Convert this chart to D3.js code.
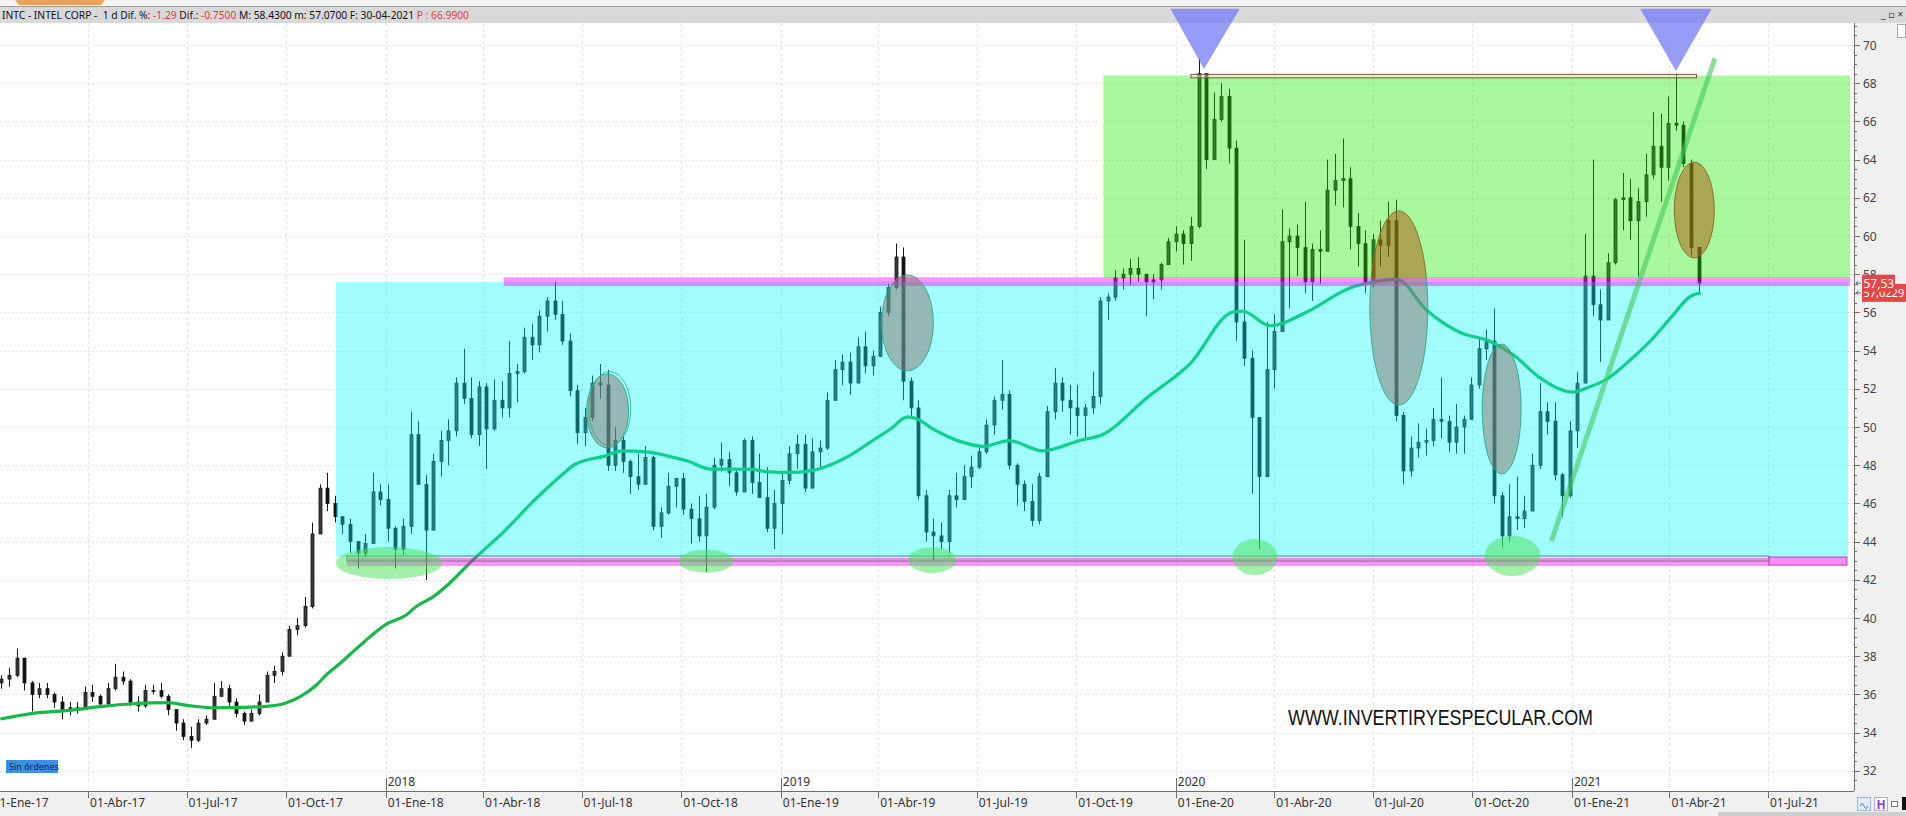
<!DOCTYPE html>
<html>
<head>
<meta charset="utf-8">
<title>INTC - INTEL CORP</title>
<script src="https://cdn.jsdelivr.net/npm/d3@7/dist/d3.min.js"></script>
<style>
  html, body { margin: 0; padding: 0; background: #ffffff; overflow: hidden; }
  svg { display: block; font-family: "Noto Sans", "DejaVu Sans", sans-serif; }
</style>
</head>
<body>
<svg id="chart" width="1906" height="816"></svg>
<script>
// ================= DATA =================
// weekly bars (Friday of each week), INTC daily chart read as weekly H/L/C
const firstWeekEnd = "2017-01-13";
const firstOpen = 36.6;
const weekHigh = [
  37.0,37.4,38.4,37.9,36.7,36.6,36.6,36.1,35.9,35.6,35.6,36.4,36.5,36.0,36.6,37.6,37.2,36.8,35.9,36.5,
  36.5,36.6,36.0,35.2,34.7,34.3,34.7,34.9,36.6,36.7,36.5,35.8,35.1,35.2,36.0,37.2,37.5,38.2,39.6,40.0,
  41.1,45.0,47.0,47.6,46.4,45.3,45.2,44.0,44.4,47.6,47.0,
  47.0,44.8,45.2,50.8,50.3,47.5,48.6,49.8,50.4,52.6,54.1,52.6,52.4,52.3,52.5,52.4,54.5,53.3,55.2,55.4,
  56.1,56.8,57.6,56.6,54.9,52.2,51.0,52.7,53.3,53.0,50.0,49.5,48.3,48.6,49.0,48.5,45.8,47.6,47.3,47.6,
  46.0,46.4,46.5,48.4,49.2,48.7,47.8,49.4,49.5,48.6,47.9,46.7,
  47.6,49.0,49.6,49.6,49.4,49.3,51.8,53.5,53.8,53.9,54.7,55.0,54.0,56.3,57.5,59.6,59.4,52.6,51.4,46.7,
  45.2,45.0,46.7,47.6,48.0,48.5,49.0,50.4,51.6,53.5,51.9,48.1,47.2,47.0,47.6,51.1,53.1,52.6,52.2,52.2,
  51.2,52.9,56.8,57.0,58.2,58.3,58.8,58.9,58.0,58.0,58.6,59.9,
  60.5,60.3,61.0,69.3,68.3,67.5,68.0,67.7,65.0,59.8,54.0,50.5,55.5,55.9,61.4,60.4,60.6,61.8,59.6,60.3,
  64.0,64.3,65.1,63.6,61.2,60.3,60.1,60.8,61.8,61.9,50.8,49.5,50.2,49.9,51.0,52.6,50.6,51.2,50.6,52.6,
  54.6,55.1,56.2,46.6,47.0,47.4,46.4,48.6,52.3,51.3,51.3,47.6,
  50.3,52.9,60.1,64.0,57.2,59.1,62.0,63.3,63.0,62.5,64.3,66.5,66.4,67.3,68.5,66.0,64.0,59.4
];
const weekLow = [
  36.3,36.4,36.9,36.2,35.1,35.8,35.8,35.3,34.7,34.9,35.0,35.2,35.6,35.3,35.4,36.2,36.5,35.4,35.1,35.3,
  36.0,35.8,34.9,34.1,33.6,33.2,33.5,34.4,34.7,35.9,35.4,34.8,34.4,34.6,34.9,35.6,36.6,37.0,38.0,39.1,
  39.5,40.5,44.4,45.6,45.0,44.4,43.4,42.6,43.2,43.9,45.9,
  44.0,42.6,43.3,44.4,47.0,42.0,44.6,47.4,48.0,49.5,51.2,49.4,49.0,47.8,49.8,50.5,50.5,51.3,52.8,53.5,
  53.9,55.0,55.6,54.3,51.6,49.1,49.0,50.3,51.5,47.7,47.7,47.6,46.5,46.7,47.0,44.6,44.2,45.4,45.8,45.4,
  43.9,44.0,42.4,45.7,47.7,46.9,46.4,46.6,46.5,46.3,44.5,43.6,
  44.4,47.0,47.8,46.6,46.8,47.9,48.8,51.4,52.2,51.7,52.6,52.8,52.7,53.8,55.8,57.2,51.4,50.5,46.2,44.0,
  43.0,43.6,43.4,45.8,46.5,46.8,47.8,48.6,49.6,50.9,47.8,45.9,45.6,44.8,44.9,47.5,50.4,50.8,49.6,49.5,
  49.4,50.7,51.2,55.6,56.6,57.2,57.4,57.6,55.8,56.7,57.2,58.8,
  59.2,58.5,58.7,60.4,63.5,64.1,66.0,63.8,54.5,53.2,46.5,43.6,47.5,52.0,55.5,56.2,57.9,57.0,56.6,57.5,
  59.5,61.6,61.5,59.3,58.4,57.0,57.3,58.4,58.9,50.3,47.0,47.4,48.4,48.5,49.0,49.4,48.7,48.6,48.6,50.5,
  52.0,53.5,46.0,43.7,44.0,44.6,44.7,45.6,47.8,49.6,47.2,45.3,
  46.3,48.9,52.7,55.8,53.4,55.6,58.5,60.3,59.8,57.9,61.0,63.0,61.8,62.9,65.5,63.6,59.0,57.07
];
const weekClose = [
  36.8,37.0,37.9,36.6,36.0,36.3,36.0,35.6,35.2,35.3,35.2,36.1,35.9,35.5,36.3,36.9,36.7,35.6,35.4,36.2,
  36.2,35.9,35.2,34.5,33.8,33.6,34.5,34.7,35.9,36.3,35.6,35.0,34.6,35.0,35.6,37.0,37.2,38.0,39.4,39.6,
  40.6,44.4,46.8,46.0,45.3,44.9,44.0,43.4,43.9,46.6,46.2,
  44.7,43.6,44.8,49.6,47.0,44.6,48.2,49.3,49.8,52.3,51.5,49.6,52.1,49.9,51.4,51.0,52.8,52.9,54.7,54.3,
  55.8,56.6,55.9,54.5,51.9,49.7,50.5,52.3,52.2,48.0,49.3,48.2,47.4,47.0,48.4,44.8,45.5,46.9,47.3,45.7,
  45.2,44.3,45.8,48.0,48.3,47.6,46.6,49.3,47.1,46.3,44.7,46.0,
  47.2,48.6,49.1,46.8,48.7,48.9,51.4,53.0,53.4,52.3,54.2,53.2,53.7,56.0,57.3,58.9,52.4,51.0,46.4,44.5,
  44.3,44.0,46.4,46.2,47.4,47.9,48.7,50.1,51.4,51.7,48.0,47.0,46.1,45.1,47.4,50.8,52.3,51.4,51.0,50.6,
  51.0,51.6,56.6,56.8,57.8,58.0,58.3,58.0,57.6,57.7,58.5,59.7,
  60.1,59.6,60.5,68.5,64.0,66.1,67.3,64.6,55.5,53.6,50.5,47.4,53.0,55.0,59.7,60.0,59.4,57.6,59.3,59.2,
  62.4,62.9,63.0,60.5,59.6,57.5,59.8,59.5,60.8,50.6,47.7,48.9,49.2,49.3,50.4,50.3,49.2,50.0,50.4,52.2,
  54.1,54.5,46.4,44.3,45.3,45.2,45.6,48.0,50.8,50.3,47.5,46.4,
  49.8,52.3,57.9,56.4,55.6,58.6,61.9,62.0,60.8,61.8,63.2,64.7,63.6,65.9,65.8,63.8,59.4,57.53
];

// moving average (green line), read at these dates
const maDates = [
  "2017-01-10","2017-02-09","2017-03-12","2017-04-12","2017-05-12","2017-06-13","2017-07-01","2017-07-25",
  "2017-08-19","2017-09-09","2017-09-28","2017-10-14","2017-10-29","2017-11-07","2017-11-20","2017-12-02",
  "2017-12-14","2018-01-02","2018-01-20","2018-01-29","2018-02-14","2018-03-01","2018-03-21","2018-04-20",
  "2018-05-20","2018-06-16","2018-06-25","2018-07-23","2018-08-07","2018-08-30","2018-09-18","2018-10-06",
  "2018-10-29","2018-12-02","2018-12-21","2019-01-09","2019-01-28","2019-02-15","2019-03-06","2019-03-25",
  "2019-04-13","2019-04-28","2019-05-06","2019-05-21","2019-06-15","2019-07-07","2019-07-31","2019-08-31",
  "2019-10-04","2019-10-26","2019-12-05","2020-01-14","2020-02-23","2020-03-03","2020-03-28","2020-05-01",
  "2020-06-10","2020-06-28","2020-07-23","2020-08-20","2020-09-20","2020-10-17","2020-11-08","2020-12-02",
  "2021-01-02","2021-01-15","2021-02-02","2021-02-27","2021-03-17","2021-04-04","2021-04-20","2021-04-30"
];
const maValues = [
  34.71,35.01,35.15,35.36,35.51,35.57,35.43,35.30,35.32,35.36,35.50,35.88,36.49,37.02,37.63,38.24,
  38.85,39.69,40.16,40.59,41.12,41.82,42.95,44.51,46.26,47.65,48.05,48.49,48.75,48.70,48.49,48.23,
  47.79,47.79,47.65,47.62,47.70,48.00,48.52,49.22,49.92,50.53,50.44,49.92,49.26,48.99,49.29,48.75,
  49.29,49.62,51.52,53.31,56.02,56.06,55.30,56.02,57.28,57.55,57.73,56.10,54.94,54.49,53.77,52.59,
  51.83,52.05,52.50,53.67,54.66,55.84,56.83,57.02
];

// axes
const priceTicks = [32,34,36,38,40,42,44,46,48,50,52,54,56,58,60,62,64,66,68,70];
const dateTicks = [
  "2017-01-01","2017-04-01","2017-07-01","2017-10-01","2018-01-01","2018-04-01","2018-07-01","2018-10-01",
  "2019-01-01","2019-04-01","2019-07-01","2019-10-01","2020-01-01","2020-04-01","2020-07-01","2020-10-01",
  "2021-01-01","2021-04-01","2021-07-01"
];
const dateTickLabels = [
  "01-Ene-17","01-Abr-17","01-Jul-17","01-Oct-17","01-Ene-18","01-Abr-18","01-Jul-18","01-Oct-18",
  "01-Ene-19","01-Abr-19","01-Jul-19","01-Oct-19","01-Ene-20","01-Abr-20","01-Jul-20","01-Oct-20",
  "01-Ene-21","01-Abr-21","01-Jul-21"
];
const yearDates = ["2018-01-01","2019-01-01","2020-01-01","2021-01-01"];
const yearLabels = ["2018","2019","2020","2021"];

// last values shown on the price axis
const lastPrice = 57.53, lastPriceLabel = "57,53";
const lastMA = 57.0229, lastMALabel = "57,0229";

// header
const headerParts = [
  {t: "INTC - INTEL CORP -  1 d Dif. %: ", red: false},
  {t: "-1.29", red: true},
  {t: " Dif.: ", red: false},
  {t: "-0.7500", red: true},
  {t: " M: 58.4300 m: 57.0700 F: 30-04-2021 ", red: false},
  {t: "P : 66.9900", red: true}
];

// drawn annotations (in date / price units)
const cyanZone = ["2017-11-16", "2021-09-13", 57.6, 43.2];
const greenZone = ["2019-10-26", "2021-09-15", 68.4, 57.82];
const resistanceBand = ["2018-04-20", "2021-09-15", 57.84, 57.38];
const supportBand = ["2017-11-26", "2021-07-02", 43.14, 42.72];
const supportBox = ["2017-11-26", "2021-07-02", 43.25, 42.98];
const supportBox2 = ["2021-07-02", "2021-09-12", 43.19, 42.77];
const topBox = ["2020-01-15", "2021-04-26", 68.46, 68.28];
const grayEllipses = [
  {date: "2018-07-25", price: 50.84, rxDays: 19.4, ry: 1.94},
  {date: "2019-04-28", price: 55.45, rxDays: 24.0, ry: 2.51},
  {date: "2020-07-25", price: 56.23, rxDays: 26.8, ry: 5.08},
  {date: "2020-10-28", price: 50.94, rxDays: 18.0, ry: 3.40},
  {date: "2021-04-24", price: 61.36, rxDays: 18.5, ry: 2.51}
];
const lowEllipses = [
  {date: "2018-01-04", price: 42.88, rxDays: 49.0, ry: 0.84},
  {date: "2018-10-24", price: 42.98, rxDays: 25.4, ry: 0.60},
  {date: "2019-05-21", price: 43.04, rxDays: 22.2, ry: 0.68},
  {date: "2020-03-14", price: 43.19, rxDays: 20.8, ry: 0.94},
  {date: "2020-11-07", price: 43.25, rxDays: 25.9, ry: 1.05}
];
const peakMarkers = [
  {left: "2019-12-27", right: "2020-02-29", apex: "2020-01-27", top: 71.9, tip: 68.74},
  {left: "2021-03-05", right: "2021-05-10", apex: "2021-04-07", top: 71.9, tip: 68.64}
];
const trendLine = [{date: "2020-12-13", price: 44.03}, {date: "2021-05-13", price: 69.3}];
const watermark = "WWW.INVERTIRYESPECULAR.COM";

// ================= DRAWING =================
const W = 1906, H = 816;
const plot = {left: 0, right: 1854, top: 23, bottom: 791};
const svg = d3.select("#chart");
const defs = svg.append("defs");
const dt = s => new Date(s);

const x = d3.scaleUtc().domain([dt("2018-01-01"), dt("2021-01-01")]).range([385.7, 1572.0]);
const y = d3.scaleLinear().domain([32, 70]).range([770.8, 45]);

defs.append("clipPath").attr("id", "plotClip").append("rect")
  .attr("x", plot.left).attr("y", plot.top)
  .attr("width", plot.right - plot.left).attr("height", plot.bottom - plot.top);

// region clips for ellipse colouring
const gz = {x0: x(dt(greenZone[0])), x1: x(dt(greenZone[1])), y0: y(greenZone[2]), y1: y(greenZone[3])};
defs.append("clipPath").attr("id", "inGreen").append("rect")
  .attr("x", gz.x0).attr("y", gz.y0).attr("width", gz.x1 - gz.x0).attr("height", gz.y1 - gz.y0);
defs.append("clipPath").attr("id", "outGreen").append("path")
  .attr("clip-rule", "evenodd")
  .attr("d", `M0,0H${W}V${H}H0Z M${gz.x0},${gz.y0}H${gz.x1}V${gz.y1}H${gz.x0}Z`);

svg.append("rect").attr("width", W).attr("height", H).attr("fill", "#ffffff");

const gPlot = svg.append("g").attr("clip-path", "url(#plotClip)");

// grid
gPlot.append("g").selectAll("line").data(priceTicks).join("line")
  .attr("x1", plot.left).attr("x2", plot.right)
  .attr("y1", d => Math.round(y(d)) + 0.5).attr("y2", d => Math.round(y(d)) + 0.5)
  .attr("stroke", "#e4e4e4").attr("stroke-dasharray", "2,2");
gPlot.append("g").selectAll("line").data(dateTicks).join("line")
  .attr("x1", d => Math.round(x(dt(d))) + 0.5).attr("x2", d => Math.round(x(dt(d))) + 0.5)
  .attr("y1", plot.top).attr("y2", plot.bottom)
  .attr("stroke", "#e2e2e2").attr("stroke-dasharray", "3,3");

// weekly candles
const weeks = weekClose.map((c, i) => {
  const end = d3.utcDay.offset(dt(firstWeekEnd), 7 * i);
  const open = i === 0 ? firstOpen : weekClose[i - 1];
  return {
    date: d3.utcDay.offset(end, -2), open, close: c,
    high: Math.max(weekHigh[i], open, c), low: Math.min(weekLow[i], open, c)
  };
});
const gC = gPlot.append("g");
gC.selectAll("line").data(weeks).join("line")
  .attr("x1", d => Math.round(x(d.date)) + 0.5).attr("x2", d => Math.round(x(d.date)) + 0.5)
  .attr("y1", d => y(d.high)).attr("y2", d => y(d.low))
  .attr("stroke", "#151515").attr("stroke-width", 1);
gC.selectAll("rect").data(weeks).join("rect")
  .attr("x", d => Math.round(x(d.date)) - 1)
  .attr("width", 3)
  .attr("y", d => y(Math.max(d.open, d.close)))
  .attr("height", d => Math.max(1, Math.abs(y(d.open) - y(d.close))))
  .attr("fill", d => d.close >= d.open ? "#3a3a3a" : "#111")
  .attr("stroke", "#151515").attr("stroke-width", 0.8);

// moving average
const maPts = maDates.map((d, i) => ({date: dt(d), v: maValues[i]}));
gPlot.append("path").datum(maPts)
  .attr("d", d3.line().x(d => x(d.date)).y(d => y(d.v)).curve(d3.curveMonotoneX))
  .attr("fill", "none").attr("stroke", "rgb(22,185,72)").attr("stroke-width", 3.2)
  .attr("stroke-linejoin", "round");

// zones
function zoneRect(g, z) {
  const x0 = x(dt(z[0])), x1 = x(dt(z[1])), y0 = y(z[2]), y1 = y(z[3]);
  return g.append("rect").attr("x", x0).attr("y", y0).attr("width", x1 - x0).attr("height", y1 - y0);
}
const gA = gPlot.append("g");
zoneRect(gA, cyanZone).attr("fill", "rgb(0,250,255)").attr("fill-opacity", 0.37);
zoneRect(gA, greenZone).attr("fill", "rgb(25,240,0)").attr("fill-opacity", 0.38);
zoneRect(gA, resistanceBand).attr("fill", "rgb(255,0,255)").attr("fill-opacity", 0.42);
zoneRect(gA, supportBand).attr("fill", "rgb(255,0,255)").attr("fill-opacity", 0.42);
zoneRect(gA, supportBox).attr("fill", "rgba(110,110,110,0.18)").attr("stroke", "#707070").attr("stroke-width", 0.8);
zoneRect(gA, supportBox2).attr("fill", "rgba(255,0,255,0.45)").attr("stroke", "#b83cb8").attr("stroke-width", 1);
zoneRect(gA, topBox).attr("fill", "rgba(255,255,255,0.35)").attr("stroke", "rgb(150,70,70)").attr("stroke-width", 1);

// ellipses
function ell(g, e) {
  const c = dt(e.date);
  const cx = x(c), cy = y(e.price);
  const rx = x(d3.utcHour.offset(c, Math.round(e.rxDays * 24))) - cx;
  const ry = y(e.price - e.ry) - cy;
  return g.append("ellipse").attr("cx", cx).attr("cy", cy).attr("rx", rx).attr("ry", ry);
}
lowEllipses.forEach(e => ell(gA, e).attr("fill", "rgb(70,225,85)").attr("fill-opacity", 0.5));
const gGray = gA.append("g").attr("clip-path", "url(#outGreen)");
const gBrown = gA.append("g").attr("clip-path", "url(#inGreen)");
grayEllipses.forEach(e => {
  ell(gGray, e).attr("fill", "rgb(135,118,108)").attr("fill-opacity", 0.5)
    .attr("stroke", "rgb(40,170,130)").attr("stroke-width", 0.9);
  ell(gBrown, e).attr("fill", "rgb(175,85,10)").attr("fill-opacity", 0.5)
    .attr("stroke", "rgb(140,100,40)").attr("stroke-width", 0.9);
});
// second outline of the first marker
{
  const e = grayEllipses[0];
  ell(gGray, {date: "2018-07-27", price: e.price + 0.12, rxDays: e.rxDays, ry: e.ry})
    .attr("fill", "none").attr("stroke", "rgb(40,170,130)").attr("stroke-width", 0.8);
}

// trend line
gA.append("line")
  .attr("x1", x(dt(trendLine[0].date))).attr("y1", y(trendLine[0].price))
  .attr("x2", x(dt(trendLine[1].date))).attr("y2", y(trendLine[1].price))
  .attr("stroke", "rgb(70,200,90)").attr("stroke-opacity", 0.6).attr("stroke-width", 5);

// watermark
svg.append("text").attr("x", 1288).attr("y", 724.5)
  .attr("font-family", "'Liberation Sans Narrow', 'Arial Narrow', 'Liberation Sans', sans-serif")
  .attr("font-size", 22).attr("fill", "#111")
  .attr("textLength", 305).attr("lengthAdjust", "spacingAndGlyphs")
  .text(watermark);

// "Sin órdenes"
svg.append("rect").attr("x", 6).attr("y", 760).attr("width", 52).attr("height", 13).attr("fill", "#3d8fe6");
svg.append("text").attr("x", 9).attr("y", 770).attr("font-size", 9).attr("fill", "#10224a").text("Sin órdenes");

// ---- bottom axis ----
svg.append("rect").attr("x", 0).attr("y", plot.bottom).attr("width", W).attr("height", H - plot.bottom).attr("fill", "#f0f0f0");
svg.append("line").attr("x1", 0).attr("x2", plot.right).attr("y1", plot.bottom + 0.5).attr("y2", plot.bottom + 0.5)
  .attr("stroke", "#6e6e6e");
const gX = svg.append("g");
gX.selectAll("line").data(dateTicks).join("line")
  .attr("x1", d => Math.round(x(dt(d))) + 0.5).attr("x2", d => Math.round(x(dt(d))) + 0.5)
  .attr("y1", plot.bottom).attr("y2", plot.bottom + 7).attr("stroke", "#6e6e6e");
gX.selectAll("text").data(dateTicks).join("text")
  .attr("x", d => x(dt(d)) + 2).attr("y", 807)
  .attr("font-size", 12).attr("fill", "#333")
  .text((d, i) => dateTickLabels[i]);
const gY = svg.append("g");
gY.selectAll("line").data(yearDates).join("line")
  .attr("x1", d => Math.round(x(dt(d))) + 0.5).attr("x2", d => Math.round(x(dt(d))) + 0.5)
  .attr("y1", plot.bottom - 13).attr("y2", plot.bottom).attr("stroke", "#6e6e6e");
gY.selectAll("text").data(yearDates).join("text")
  .attr("x", d => x(dt(d)) + 2).attr("y", 786)
  .attr("font-size", 12).attr("fill", "#333")
  .text((d, i) => yearLabels[i]);

// ---- right price axis ----
svg.append("rect").attr("x", plot.right).attr("y", plot.top).attr("width", W - plot.right).attr("height", plot.bottom - plot.top)
  .attr("fill", "#f0f0f0");
svg.append("line").attr("x1", plot.right + 0.5).attr("x2", plot.right + 0.5).attr("y1", plot.top).attr("y2", plot.bottom)
  .attr("stroke", "#6e6e6e");
const minorTicks = d3.range(31.5, 71.6, 0.5).filter(v => y(v) > plot.top + 2 && y(v) < plot.bottom - 2);
svg.append("g").selectAll("line").data(minorTicks).join("line")
  .attr("x1", plot.right).attr("x2", d => plot.right + (d % 2 === 0 ? 6 : 3))
  .attr("y1", d => Math.round(y(d)) + 0.5).attr("y2", d => Math.round(y(d)) + 0.5)
  .attr("stroke", "#6e6e6e");
svg.append("g").selectAll("text").data(priceTicks).join("text")
  .attr("x", plot.right + 9).attr("y", d => y(d) + 4.5)
  .attr("font-size", 12).attr("fill", "#444")
  .text(d => d);

// last value tags
function tag(v, label, w, h, fs) {
  const cy = y(v);
  svg.append("rect").attr("x", 1862).attr("y", cy - h / 2).attr("width", w).attr("height", h).attr("fill", "#e34848");
  svg.append("text").attr("x", 1863.5).attr("y", cy + 4.5).attr("font-size", fs).attr("fill", "#fff").text(label);
  svg.append("path").attr("d", `M${plot.right + 7},${cy} l-5,0 m0,0 l2.5,-2 m-2.5,2 l2.5,2`)
    .attr("stroke", "#555").attr("fill", "none").attr("stroke-width", 0.8);
}
tag(lastMA, lastMALabel, 44, 18, 11);
tag(lastPrice, lastPriceLabel, 33, 17, 12);

// ---- header ----
svg.append("rect").attr("x", 0).attr("y", 0).attr("width", W).attr("height", 6).attr("fill", "#f4f4f4");
svg.append("path").attr("d", "M15,0 H105 L101,5 H19 Z").attr("fill", "#e9a35e");
svg.append("rect").attr("x", 0).attr("y", 6).attr("width", W).attr("height", plot.top - 6).attr("fill", "#d9d9d9");
svg.append("line").attr("x1", 0).attr("x2", W).attr("y1", 6.5).attr("y2", 6.5).attr("stroke", "#9a9a9a");
const ht = svg.append("text").attr("x", 2).attr("y", 18.5).attr("font-size", 11).style("white-space", "pre");
headerParts.forEach(p => ht.append("tspan").attr("fill", p.red ? "#e23a3a" : "#111").text(p.t));
{
  // size the header font so the line spans the same width as in the original
  const natural = ht.node().getComputedTextLength();
  if (natural > 0) ht.attr("font-size", (11 * 467 / natural).toFixed(2));
}
svg.append("text").attr("x", 1881).attr("y", 18).attr("font-size", 10).attr("fill", "#333").text("_ ▫ ×");
svg.append("rect").attr("x", 1897.5).attr("y", 24.5).attr("width", 8).attr("height", 13).attr("fill", "#fff").attr("stroke", "#aaa");

// peak markers (triangles)
svg.append("g").selectAll("path").data(peakMarkers).join("path")
  .attr("d", d => `M${x(dt(d.left))},${y(d.top)} L${x(dt(d.right))},${y(d.top)} L${x(dt(d.apex))},${y(d.tip)} Z`)
  .attr("fill", "rgb(110,118,245)").attr("fill-opacity", 0.72);

// bottom-right icons
svg.append("rect").attr("x", 1857.5).attr("y", 797.5).attr("width", 13).attr("height", 13).attr("fill", "#e3ecf8").attr("stroke", "#9fb3cc");
svg.append("path").attr("d", "M1860,806 q2,-5 4,0 t4,0").attr("stroke", "#3a7bd5").attr("fill", "none");
svg.append("rect").attr("x", 1874.5).attr("y", 797.5).attr("width", 13).attr("height", 13).attr("fill", "#fff").attr("stroke", "#b9a3d9");
svg.append("text").attr("x", 1876.5).attr("y", 809).attr("font-size", 12).attr("font-weight", "bold").attr("fill", "#8a3fc7").text("H");
svg.append("rect").attr("x", 1891.5).attr("y", 801.5).attr("width", 6).attr("height", 5).attr("fill", "#fff").attr("stroke", "#777");
svg.append("rect").attr("x", 1902).attr("y", 797).attr("width", 4).attr("height", 13).attr("fill", "#111");
svg.append("rect").attr("x", 1718).attr("y", 812).attr("width", 188).attr("height", 4).attr("fill", "#cfcfcf");
</script>
</body>
</html>
